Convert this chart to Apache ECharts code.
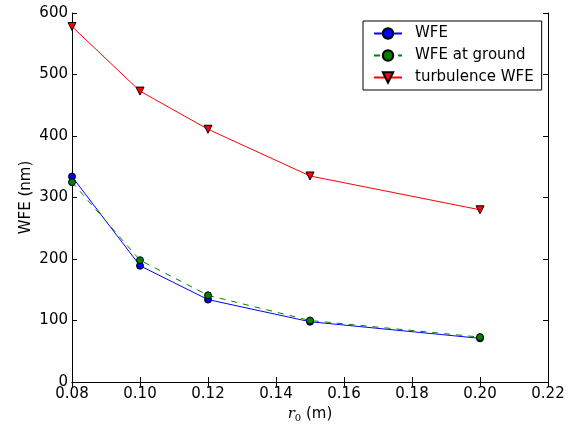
<!DOCTYPE html>
<html><head><meta charset="utf-8">
<script src="https://cdn.jsdelivr.net/npm/echarts@6/dist/echarts.min.js"></script>
<style>html,body{margin:0;padding:0;background:#fff}#c{width:584px;height:425px}</style>
</head><body><div id="c"></div>
<script>
const r0 = [0.08, 0.10, 0.12, 0.15, 0.20];
const wfe = [334, 189, 134, 98, 71];
const wfeGround = [325, 198, 141, 100, 73];
const turbWfe = [578, 473, 411, 335, 280];
const xTicks = [0.08, 0.10, 0.12, 0.14, 0.16, 0.18, 0.20, 0.22];
const yTicks = [0, 100, 200, 300, 400, 500, 600];

const pair = (xs, ys) => xs.map((x, i) => [x, ys[i]]);
const font = 'DejaVu Sans';
const chart = echarts.init(document.getElementById('c'), null, {renderer: 'canvas'});
const axisLine = {show: true, lineStyle: {color: '#000', width: 1}};
const tickIn = {show: true, inside: true, length: 5, lineStyle: {color: '#000'}};
chart.setOption({
  animation: false,
  grid: {left: 72, right: 36, top: 13, bottom: 43, containLabel: false, outerBoundsMode: 'none'},
  xAxis: [{
    type: 'value', min: xTicks[0], max: xTicks[xTicks.length-1], interval: 0.02,
    axisLine, axisTick: tickIn, splitLine: {show: false},
    axisLabel: {color: '#000', fontFamily: font, fontSize: 15, margin: 5, formatter: v => v.toFixed(2)},
    name: '{r|r}{s|0} (m)', nameLocation: 'middle', nameGap: 22,
    nameTextStyle: {color: '#000', fontFamily: font, fontSize: 15,
      rich: {r: {fontFamily: 'DejaVu Serif', fontStyle: 'italic', fontSize: 15, color: '#000'},
             s: {fontFamily: 'DejaVu Serif', fontSize: 10, verticalAlign: 'bottom', color: '#000', padding: [8,0,0,0]}}}
  }, {
    type: 'value', position: 'top', min: xTicks[0], max: xTicks[xTicks.length-1], interval: 0.02,
    axisLine, axisTick: tickIn, axisLabel: {show: false}, splitLine: {show: false}
  }],
  yAxis: [{
    type: 'value', min: 0, max: 600, interval: 100,
    axisLine, axisTick: tickIn, splitLine: {show: false},
    axisLabel: {color: '#000', fontFamily: font, fontSize: 15, margin: 4},
    name: 'WFE (nm)', nameLocation: 'middle', nameGap: 38, nameMoveOverlap: false,
    nameTextStyle: {color: '#000', fontFamily: font, fontSize: 15}
  }, {
    type: 'value', position: 'right', min: 0, max: 600, interval: 100,
    axisLine, axisTick: tickIn, axisLabel: {show: false}, splitLine: {show: false}
  }],
  legend: {
    left: 363, top: 21, orient: 'vertical',
    padding: [5, 8, 5, 10], itemGap: 7, itemWidth: 28, itemHeight: 13,
    borderColor: '#000', borderWidth: 1, backgroundColor: '#fff',
    textStyle: {color: '#000', fontFamily: font, fontSize: 15, padding: [0, 0, 0, 8]},
    data: ['WFE', 'WFE at ground', 'turbulence WFE']
  },
  series: [
    {name: 'WFE', type: 'line', data: pair(r0, wfe), symbol: 'circle', symbolSize: 7,
     lineStyle: {color: '#0000ff', width: 1}, itemStyle: {color: '#0000ff', borderColor: '#000', borderWidth: 1}, z: 3},
    {name: 'WFE at ground', type: 'line', data: pair(r0, wfeGround), symbol: 'circle', symbolSize: 7,
     lineStyle: {color: '#008000', width: 1, type: [6, 6]}, itemStyle: {color: '#008000', borderColor: '#000', borderWidth: 1}, z: 4},
    {name: 'turbulence WFE', type: 'line', data: pair(r0, turbWfe), symbol: 'triangle', symbolRotate: 180, symbolSize: 8,
     lineStyle: {color: '#ff0000', width: 1}, itemStyle: {color: '#ff0000', borderColor: '#000', borderWidth: 1}, z: 5}
  ]
});
</script></body></html>
